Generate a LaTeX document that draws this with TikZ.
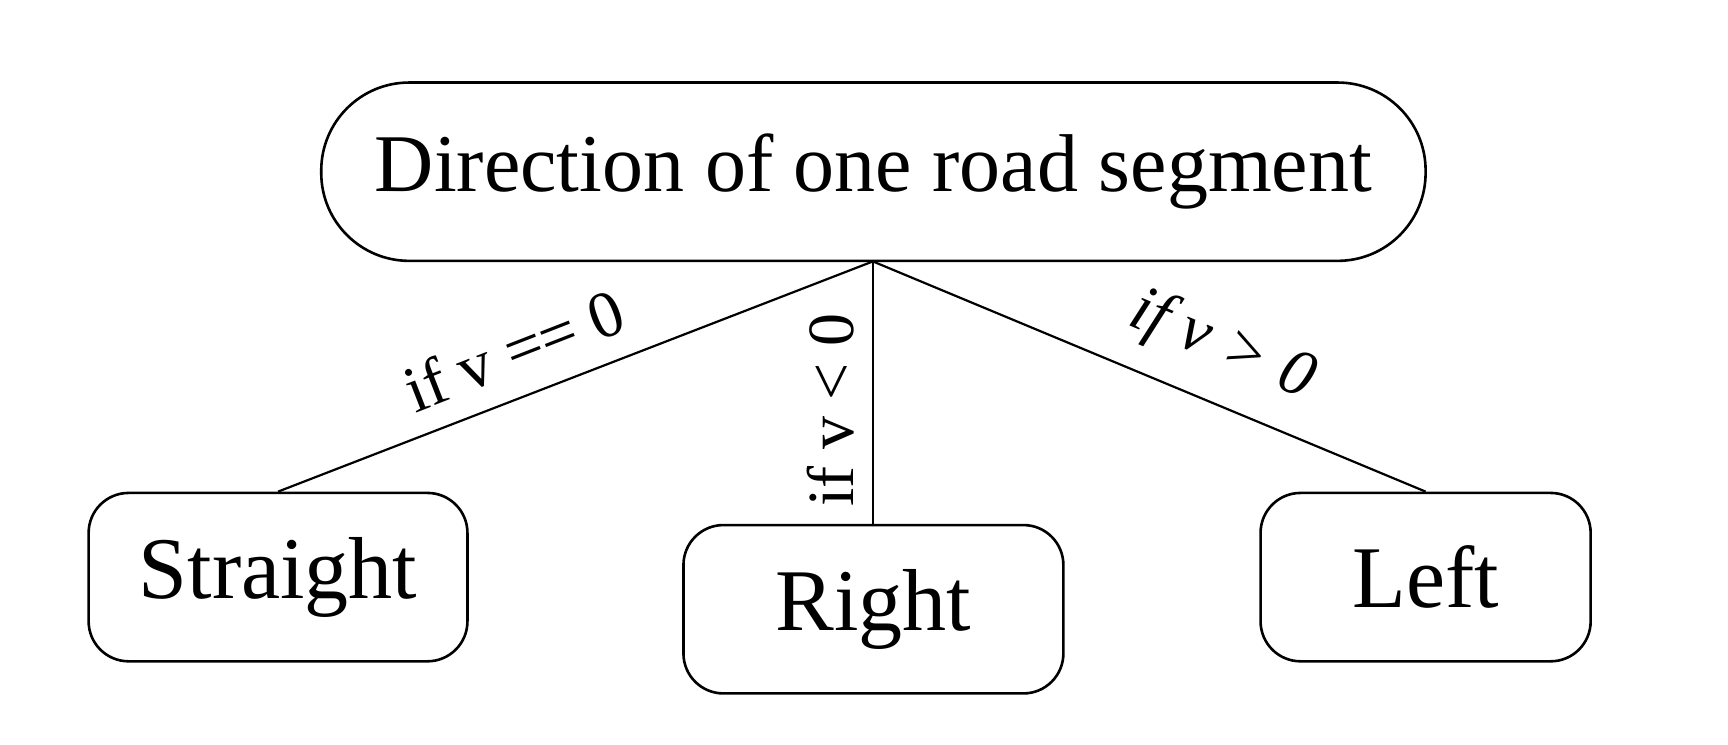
\documentclass[tikz,border=0pt]{standalone}
\usepackage{fontspec}
\setmainfont{Liberation Serif}
\begin{document}
\begin{tikzpicture}[x=0.554pt,y=-0.554pt,
  box/.style={draw,line width=1.3pt,rounded corners=20pt,inner sep=0pt,font=\fontsize{44}{50}\selectfont},
  lbl/.style={font=\fontsize{33}{38}\selectfont,inner sep=1pt},
  conn/.style={line width=1.1pt}]
\useasboundingbox (0,0) rectangle (1560,672);
\node[box,minimum width=997*0.554pt,minimum height=161*0.554pt,rounded corners=44pt,font=\fontsize{41}{46}\selectfont] (top) at (788.5,155) {Direction of one road segment};
\node[box,minimum width=342*0.554pt,minimum height=152*0.554pt] (s) at (251,521) {Straight};
\node[box,minimum width=343*0.554pt,minimum height=152*0.554pt] (r) at (788.5,550) {Right};
\node[box,minimum width=298*0.554pt,minimum height=152*0.554pt] (l) at (1287,521) {Left};
\coordinate (o) at (788,236);
\draw[conn] (o) -- (s.north);
\draw[conn] (o) -- (r.north -| o);
\draw[conn] (o) -- (l.north);
\node[lbl,rotate=21.3] (ls) at (464,316) {if v == 0};
\node[lbl,rotate=90] (lr) at (750,370) {if v < 0};
\node[lbl,rotate=-22.7] (ll) at (1103,313) {\itshape if v > 0};
\end{tikzpicture}
\end{document}
